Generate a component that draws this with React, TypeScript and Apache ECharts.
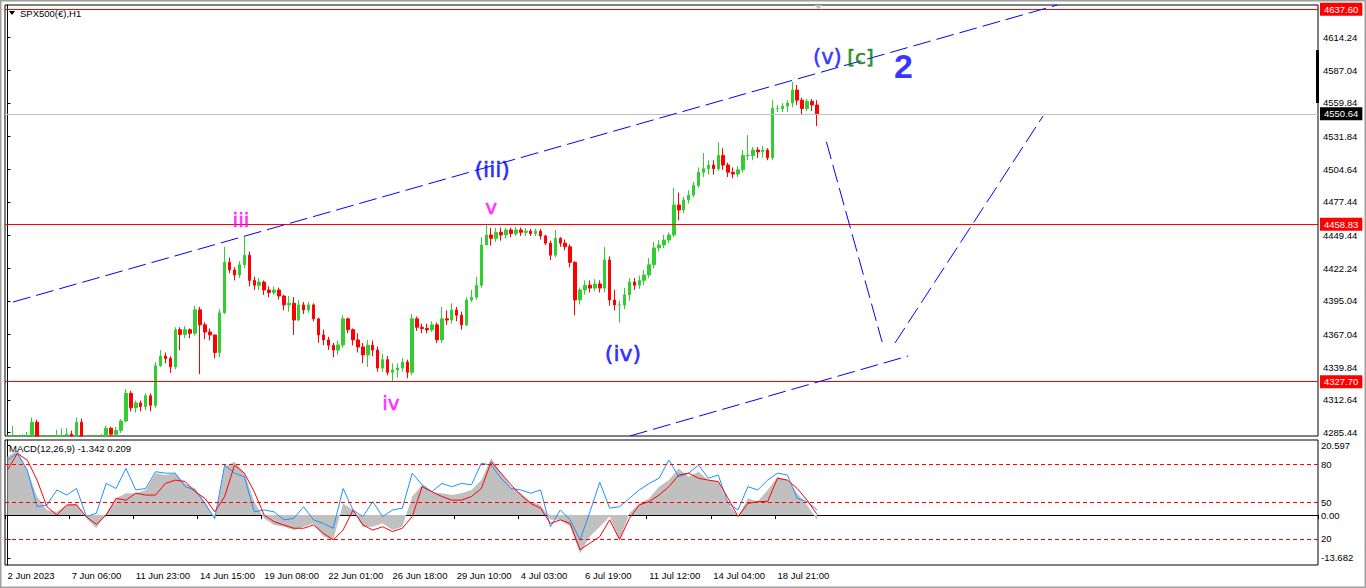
import React, { useEffect, useRef } from 'react';
import * as echarts from 'echarts';

// ---- price data (H1 candles, sampled) ----
const closes = [
  4278, 4276, 4274, 4278, 4282, 4294, 4280, 4276, 4272, 4276,
  4282, 4280, 4284, 4278, 4294, 4282, 4274, 4270, 4274, 4280,
  4289, 4284, 4287, 4295, 4318, 4306, 4310, 4307, 4316, 4308,
  4341, 4349, 4347, 4340, 4371, 4367, 4371, 4368, 4387.5, 4375,
  4369, 4366.6, 4352, 4385, 4427, 4420.7, 4416.5, 4425, 4433, 4412,
  4408, 4410.6, 4404, 4402, 4404, 4399, 4391.6, 4393, 4379, 4391.6,
  4387.4, 4391.6, 4380, 4366.6, 4362.5, 4358, 4354, 4358.3, 4380, 4371,
  4362.5, 4356.6, 4350, 4358, 4354, 4339, 4346, 4335.5, 4337.5, 4339,
  4344, 4335.5, 4380, 4373, 4372, 4370.8, 4375, 4362.5, 4380, 4379,
  4387.4, 4383, 4375, 4395.7, 4398, 4408, 4441.5, 4449.8, 4447, 4452,
  4449.8, 4454, 4451, 4454, 4452, 4453, 4451, 4453, 4449, 4443,
  4433, 4447, 4443, 4440, 4427, 4395.7, 4404, 4408, 4405.6, 4409,
  4405.6, 4429, 4395.7, 4391.6, 4391.6, 4400, 4410.6, 4408, 4412, 4416.5,
  4425, 4439, 4441.5, 4445.6, 4449.8, 4474.8, 4470.6, 4479, 4483, 4491,
  4502, 4505, 4508, 4505, 4516, 4508, 4502, 4500.5, 4504, 4516,
  4516, 4520.5, 4519, 4520.5, 4514, 4555, 4555, 4557, 4559.6, 4570.4,
  4562, 4555, 4561, 4558, 4550.6,
];
const highs = [
  4282, 4291, 4280, 4284, 4286, 4298, 4296, 4282, 4278, 4281,
  4287.6, 4289, 4289, 4287, 4298, 4297, 4283, 4277, 4279, 4284,
  4291, 4290, 4290, 4296.6, 4321.6, 4320, 4312, 4312, 4318, 4318,
  4344, 4354, 4352, 4349, 4373, 4373, 4374, 4372, 4391, 4390,
  4377, 4372, 4366, 4388, 4440, 4431, 4423, 4428, 4448.5, 4436,
  4415, 4414, 4412, 4407, 4407, 4406, 4400, 4399, 4398, 4395.7,
  4394, 4394, 4393, 4381, 4371, 4365, 4360, 4362, 4383, 4381,
  4372, 4368, 4360, 4362.5, 4362, 4357, 4351, 4349, 4343, 4343,
  4347.5, 4346, 4384, 4382, 4376, 4376, 4378, 4377, 4390, 4387,
  4393, 4390, 4386, 4398, 4404, 4415, 4448, 4458, 4455.8, 4455.8,
  4456, 4455.8, 4456, 4456.5, 4456, 4455.5, 4455, 4455, 4455, 4450,
  4445, 4454, 4448, 4446, 4442, 4428, 4406, 4412, 4412, 4413,
  4412, 4440, 4432, 4404, 4395, 4405.6, 4414, 4414, 4416, 4420.7,
  4430.6, 4444, 4445.6, 4449.8, 4452, 4489, 4485, 4481.5, 4487, 4494,
  4506, 4518, 4512, 4512, 4527, 4522, 4510, 4506, 4507, 4520.5,
  4533, 4523, 4523, 4524, 4522, 4562, 4558, 4559.6, 4562, 4577,
  4574.6, 4564, 4563, 4563, 4562,
];
const lows = [
  4272, 4274, 4270, 4272, 4276, 4280, 4278, 4270, 4266, 4268,
  4274, 4276, 4276, 4272, 4276, 4279, 4268, 4264, 4266, 4272,
  4278, 4282, 4283, 4285, 4294, 4303, 4302, 4303, 4304, 4303,
  4306, 4340, 4343, 4335, 4338, 4354, 4364, 4364, 4366, 4334,
  4363, 4362, 4347, 4348, 4384, 4418, 4412, 4414, 4422, 4407,
  4404, 4404, 4400, 4398, 4400, 4396, 4387, 4386, 4366.6, 4378,
  4384, 4385, 4378, 4360, 4358, 4354, 4348, 4350, 4356, 4368,
  4358, 4352, 4343, 4340, 4349, 4336, 4336, 4333, 4327.4, 4331,
  4336, 4330.6, 4333, 4370, 4368, 4368, 4369, 4360, 4360, 4375,
  4376, 4378, 4371, 4374, 4394, 4396, 4406, 4443, 4441, 4444,
  4445, 4447, 4448, 4449, 4449, 4449, 4449, 4449, 4446, 4441.5,
  4429, 4431, 4440, 4437, 4423, 4383, 4392, 4400, 4402, 4403,
  4402, 4402, 4391, 4387, 4376.7, 4388, 4395, 4404, 4405, 4408,
  4414, 4422, 4436, 4439, 4443, 4448, 4462, 4468, 4476, 4481,
  4489, 4498, 4500, 4500, 4503, 4504, 4498, 4497, 4498, 4502,
  4512, 4512, 4514, 4514, 4512, 4512, 4552, 4552, 4552, 4556,
  4558, 4549.6, 4553, 4553, 4540.5,
];
const firstOpen = 4276;

// ---- axes ----
const slotCount = 266;
const labelEvery = 13;
const timeLabels = [
  '2 Jun 2023', '7 Jun 06:00', '11 Jun 23:00', '14 Jun 15:00', '19 Jun 08:00',
  '22 Jun 01:00', '26 Jun 18:00', '29 Jun 10:00', '4 Jul 03:00', '6 Jul 19:00',
  '11 Jul 12:00', '14 Jul 04:00', '18 Jul 21:00',
];
const priceTicks = [
  4614.24, 4587.04, 4559.84, 4531.84, 4504.64, 4477.44, 4449.44,
  4422.24, 4395.04, 4367.04, 4339.84, 4312.64, 4285.44,
];
const priceMin = 4282.5;
const priceMax = 4641.2;
const redLevels = [4637.6, 4458.83, 4327.7];
const currentPrice = 4550.64;

// ---- MACD (every 2nd bar) ----
const macdStep = 2;
const macdHist = [
  16.0, 17.9, 12.4, 5.1, 1.4, 0.9, 2.8, 3.2, -0.9, -3.6,
  0.5, 4.6, 6.0, 6.0, 6.9, 11.5, 11.0, 11.5, 8.7, 7.3,
  3.7, -1.3, 13.3, 14.6, 11.5, 3.7, -0.9, -2.7, -3.2, -4.1,
  -3.2, -2.3, -5.9, -6.8, 3.2, 1.4, -3.2, -3.2, -2.3, -4.1,
  -3.2, 5.1, 8.3, 6.2, 6.0, 5.5, 6.0, 6.9, 9.6, 15.6,
  11.5, 7.8, 6.0, 3.7, 2.8, -1.3, -1.3, -3.2, -10.5, -5.9,
  -3.2, -0.4, -6.8, 0.5, 3.2, 4.6, 7.8, 9.6, 12.8, 10.5,
  11.9, 9.6, 9.2, 3.2, -0.4, 4.6, 3.7, 6.9, 10.5, 9.6,
  6.0, 2.8, -1.3,
];
const macdSignal = [
  12.4, 16.9, 15.1, 9.6, 2.3, 0.0, 2.8, 2.8, -0.5, -2.5,
  0.0, 4.6, 4.1, 6.0, 5.5, 5.5, 8.7, 9.6, 9.2, 6.4,
  4.6, 0.9, 5.1, 13.7, 11.5, 6.4, 0.0, -1.8, -2.7, -3.6,
  -3.6, -2.7, -5.0, -6.8, -4.1, 1.4, -2.7, -4.1, -3.2, -4.5,
  -3.6, -0.4, 7.8, 6.4, 5.1, 4.1, 4.1, 5.1, 7.3, 14.6,
  11.5, 8.3, 5.5, 3.2, 1.9, -2.3, -1.3, -2.3, -9.5, -7.7,
  -5.9, -1.3, -6.7, -0.9, 2.8, 3.7, 5.5, 7.8, 11.0, 11.5,
  10.1, 9.6, 9.2, 4.6, -0.4, 3.2, 3.7, 3.7, 10.1, 9.6,
  7.3, 4.1, 0.2,
];
const macdLine = [
  15.1, 16.9, 12.4, 2.3, 2.8, 6.9, 5.5, 7.3, -0.4, 0.5,
  8.7, 7.3, 12.8, 6.9, 7.3, 11.9, 11.5, 11.5, 7.8, 6.9,
  3.2, -0.9, 13.7, 11.5, 10.5, 0.9, 1.4, 0.9, -1.3, -0.9,
  2.3, -1.3, -2.3, -3.6, 7.3, 1.4, -0.4, 3.7, -0.4, 1.4,
  1.9, 11.5, 8.3, 6.4, 8.7, 7.8, 8.7, 8.3, 14.2, 13.7,
  10.1, 7.3, 6.9, 6.0, 6.9, -3.2, 1.4, -1.3, -6.8, 0.9,
  9.0, 1.9, 2.3, 4.6, 6.9, 8.7, 10.1, 15.1, 10.5, 11.5,
  13.7, 10.1, 11.0, 3.2, 1.4, 7.8, 6.9, 9.6, 11.5, 11.0,
  4.6, 3.7, 1.4,
];
const macdMin = -13.682;
const macdMax = 20.597;
const macdLevelValues = [14.0, 3.5, -6.55];
const macdTickValues = [19.2, 14.0, 3.5, 0, -6.55, -11.76];
const macdTickTexts = ['20.597', '80', '50', '0.00', '20', '-13.682'];

// ---- annotations (bar index, price) ----
const trendLines = [
  [[1.12, 4394.0], [212.7, 4641.2]],
  [[126.1, 4282.5], [182.5, 4349.1]],
  [[165.9, 4527.4], [177.2, 4360.7]],
  [[179.8, 4359.9], [209.8, 4548.8]],
];
const waveLabels = [
  { text: 'iii', at: [47.3, 4462.3], color: '#ff00ff', size: 20, bold: false, font: 'DejaVu Sans' },
  { text: 'v', at: [98.0, 4473.1], color: '#ff00ff', size: 20, bold: false, font: 'DejaVu Sans' },
  { text: 'iv', at: [77.7, 4310.0], color: '#ff00ff', size: 20, bold: false, font: 'DejaVu Sans' },
  { text: '(iii)', at: [98.2, 4504.7], color: '#0000ff', size: 22, bold: false, font: 'DejaVu Sans' },
  { text: '(iv)', at: [124.7, 4350.9], color: '#0000ff', size: 22, bold: false, font: 'DejaVu Sans' },
  { text: '(v)', at: [166.1, 4597.9], color: '#1010ff', size: 21, bold: false, font: 'DejaVu Sans' },
  { text: '[c]', at: [172.8, 4597.9], color: '#007a00', size: 20, bold: false, font: 'DejaVu Sans' },
  { text: '2', at: [181.5, 4590.4], color: '#0000ff', size: 34, bold: true, font: 'Liberation Sans' },
];

const FONT = 'Liberation Sans, Arial, sans-serif';

export default function App() {
  const ref = useRef<HTMLDivElement>(null);

  useEffect(() => {
    if (!ref.current) return;
    const chart = echarts.init(ref.current, undefined, { renderer: 'svg' });

    const slotNames = Array.from({ length: slotCount }, (_, k) =>
      k % labelEvery === 0 && k / labelEvery < timeLabels.length ? timeLabels[k / labelEvery] : ''
    );
    const showSlot = (idx: number) => idx % labelEvery === 0 && idx / labelEvery < timeLabels.length;

    // clamp to the visible price window (the panel clips the bars that run below it)
    const clampP = (v: number) => Math.max(priceMin, Math.min(priceMax, v));
    const candles = closes.map((c, i) => {
      const o = i === 0 ? firstOpen : closes[i - 1];
      const lo = Math.min(lows[i], o, c);
      const hi = Math.max(highs[i], o, c);
      return [clampP(o), clampP(c), clampP(lo), clampP(hi)];
    });

    const levelMarks: any[] = redLevels.map((v) => ({
      yAxis: v,
      lineStyle: { color: '#ff0000', width: 1, type: 'solid' },
      label: {
        show: true, position: 'end', distance: 2,
        formatter: v.toFixed(2), color: '#fff', backgroundColor: '#ff0000',
        padding: [2, 4, 1, 4], fontSize: 9.5, fontFamily: FONT,
      },
    }));
    levelMarks.push({
      yAxis: currentPrice,
      lineStyle: { color: '#c0c0c0', width: 1, type: 'solid' },
      label: {
        show: true, position: 'end', distance: 2,
        formatter: currentPrice.toFixed(2), color: '#fff', backgroundColor: '#000',
        padding: [2, 4, 1, 4], fontSize: 9.5, fontFamily: FONT,
      },
    });

    const lineSeries = trendLines.map((pts) => ({
      type: 'line', xAxisIndex: 1, yAxisIndex: 0, data: pts, symbol: 'none',
      silent: true, clip: true, z: 5,
      lineStyle: { color: '#0000ff', width: 1, type: [18, 6] },
    }));

    const macdXY = (arr: number[]) => arr.map((v, j) => [j * macdStep, v]);

    const option: any = {
      animation: false,
      backgroundColor: '#ffffff',
      grid: [
        { left: 5, top: 5, right: 48, height: 431, show: true, borderColor: '#000', borderWidth: 1, backgroundColor: '#fff' },
        { left: 5, top: 440, right: 48, height: 125, show: true, borderColor: '#000', borderWidth: 1, backgroundColor: '#fff' },
      ],
      xAxis: [
        { type: 'category', gridIndex: 0, data: slotNames, boundaryGap: true,
          axisLine: { show: false }, axisTick: { show: false }, axisLabel: { show: false }, splitLine: { show: false } },
        { type: 'value', gridIndex: 0, min: -0.5, max: slotCount - 0.5, show: false },
        { type: 'category', gridIndex: 1, data: slotNames, boundaryGap: true, position: 'bottom',
          axisLine: { show: true, lineStyle: { color: '#000' } },
          axisTick: { show: true, interval: showSlot, length: 4, lineStyle: { color: '#000' } },
          axisLabel: { show: true, interval: showSlot, align: 'left', margin: 5, color: '#000',
            fontSize: 9.5, fontFamily: FONT },
          splitLine: { show: false } },
        { type: 'value', gridIndex: 1, min: -0.5, max: slotCount - 0.5, show: false },
      ],
      yAxis: [
        { type: 'value', gridIndex: 0, position: 'right', min: priceMin, max: priceMax, scale: true,
          splitLine: { show: false },
          axisLine: { show: true, lineStyle: { color: '#000' } },
          axisTick: { show: true, customValues: priceTicks, length: 3, lineStyle: { color: '#000' } },
          axisLabel: { show: true, customValues: priceTicks, formatter: (v: number) => v.toFixed(2),
            color: '#000', fontSize: 9.5, fontFamily: FONT, margin: 5 } },
        { type: 'value', gridIndex: 1, position: 'right', min: macdMin, max: macdMax,
          splitLine: { show: false },
          axisLine: { show: true, lineStyle: { color: '#000' } },
          axisTick: { show: true, customValues: macdTickValues, length: 3, lineStyle: { color: '#000' } },
          axisLabel: { show: true, customValues: macdTickValues,
            formatter: (v: number) => {
              let best = 0;
              macdTickValues.forEach((t, k) => { if (Math.abs(t - v) < Math.abs(macdTickValues[best] - v)) best = k; });
              return macdTickTexts[best];
            },
            color: '#000', fontSize: 9.5, fontFamily: FONT, margin: 3 } },
      ],
      series: [
        {
          type: 'candlestick', xAxisIndex: 0, yAxisIndex: 0, data: candles, clip: true,
          barWidth: 3,
          itemStyle: { color: '#32cd32', color0: '#ff0000', borderColor: '#32cd32', borderColor0: '#ff0000', borderWidth: 1 },
          markLine: { symbol: ['none', 'none'], silent: true, animation: false, z: 3, data: levelMarks },
        },
        ...lineSeries,
        {
          type: 'scatter', xAxisIndex: 1, yAxisIndex: 0, symbolSize: 1, silent: true, z: 10,
          itemStyle: { color: 'rgba(0,0,0,0)' },
          data: waveLabels.map((w) => ({
            value: w.at,
            label: {
              show: true, position: 'inside', formatter: w.text, color: w.color,
              fontSize: w.size, fontFamily: w.font, fontWeight: w.bold ? 'bold' : 'normal',
              textBorderColor: w.bold ? 'transparent' : w.color, textBorderWidth: w.bold ? 0 : 0.6,
            },
          })),
        },
        {
          type: 'line', xAxisIndex: 3, yAxisIndex: 1, data: macdXY(macdHist), symbol: 'none', silent: true,
          lineStyle: { width: 0, color: '#c0c0c0' },
          areaStyle: { color: '#c0c0c0', opacity: 1, origin: 0 },
          markLine: {
            symbol: ['none', 'none'], silent: true, z: 20,
            lineStyle: { color: '#ff0000', width: 1, type: [4, 3] },
            label: { show: false },
            data: macdLevelValues.map((v) => ({ yAxis: v })),
          },
        },
        {
          type: 'line', xAxisIndex: 3, yAxisIndex: 1, data: macdXY(macdLine), symbol: 'none', silent: true,
          lineStyle: { width: 1, color: '#1e90ff' }, z: 4,
        },
        {
          type: 'line', xAxisIndex: 3, yAxisIndex: 1, data: macdXY(macdSignal), symbol: 'none', silent: true,
          lineStyle: { width: 1, color: '#ff0000' }, z: 5,
        },
      ],
      graphic: [
        { type: 'rect', shape: { x: 0.5, y: 0.5, width: 1365, height: 587 }, silent: true,
          style: { fill: 'none', stroke: '#a0a0a0', lineWidth: 2 } },
        { type: 'polygon', shape: { points: [[9, 11], [15, 11], [12, 15]] }, silent: true, style: { fill: '#000' } },
        { type: 'text', x: 20, y: 13, silent: true,
          style: { text: 'SPX500(€),H1', fill: '#000', font: '9.5px Liberation Sans, Arial, sans-serif', textVerticalAlign: 'middle' } },
        { type: 'text', x: 9, y: 448, silent: true, z: 30,
          style: { text: 'MACD(12,26,9) -1.342 0.209', fill: '#000', font: '9.5px Liberation Sans, Arial, sans-serif', textVerticalAlign: 'middle' } },
        { type: 'polygon', shape: { points: [[814, 5], [823, 5], [818.5, 9]] }, silent: true, style: { fill: '#c0c0c0' } },
        { type: 'rect', shape: { x: 1316, y: 50, width: 3, height: 53 }, silent: true, style: { fill: '#000' } },
      ],
    };

    chart.setOption(option);
    return () => chart.dispose();
  }, []);

  return (
    <div
      ref={ref}
      style={{ position: 'fixed', left: 0, top: 0, width: 1366, height: 588, background: '#fff' }}
    />
  );
}
